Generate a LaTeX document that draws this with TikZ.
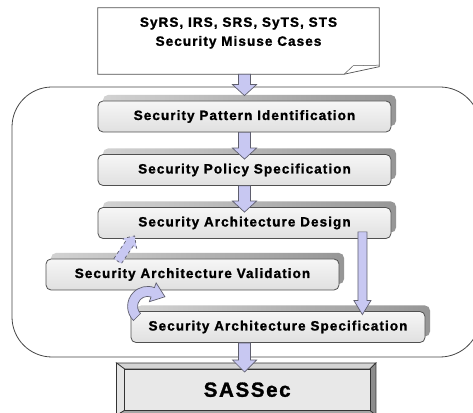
\documentclass[tikz,border=0pt]{standalone}
\usepackage{fontspec}
\setmainfont{Liberation Sans}[LetterSpace=8, BoldFeatures={FakeBold=1.3}]
\usetikzlibrary{calc,shadows}

\definecolor{arrowfill}{RGB}{200,200,242}
\definecolor{arrowline}{RGB}{95,95,110}
\definecolor{boxline}{RGB}{80,80,80}
\definecolor{boxtop}{RGB}{246,246,246}
\definecolor{boxbot}{RGB}{224,224,224}
\definecolor{shadowL}{RGB}{210,210,210}
\definecolor{shadowR}{RGB}{150,150,150}
\definecolor{frameline}{RGB}{70,70,70}

% block arrow: [options]{from}{to}{shaft half width}{head half width}{head length}
\newcommand{\blockarrow}[6][]{%
  \filldraw[flowarrow,#1] let \p1=(#2), \p2=(#3),
    \n1={atan2(\y2-\y1,\x2-\x1)}, \n2={veclen(\x2-\x1,\y2-\y1)-#6} in
    ($(\p1)+(\n1+90:#4)$) -- ($(\p1)+(\n1:\n2)+(\n1+90:#4)$)
    -- ($(\p1)+(\n1:\n2)+(\n1+90:#5)$) -- (\p2)
    -- ($(\p1)+(\n1:\n2)+(\n1-90:#5)$) -- ($(\p1)+(\n1:\n2)+(\n1-90:#4)$)
    -- ($(\p1)+(\n1-90:#4)$) -- cycle;}

\begin{document}
\begin{tikzpicture}[x=1pt,y=1pt,
  flowarrow/.style={fill=arrowfill, draw=arrowline, line width=0.7pt, line join=miter},
  labelfont/.style={font=\fontsize{13.5}{19}\selectfont\bfseries},
  stepbox/.style={labelfont, draw=boxline, line width=0.8pt, rounded corners=5pt,
    top color=boxtop, bottom color=boxbot, minimum width=293pt, minimum height=31pt,
    inner sep=0pt,
    general shadow={shadow xshift=5pt, shadow yshift=6pt, left color=shadowL, right color=shadowR, draw=none}},
  frame/.style={draw=frameline, line width=0.8pt, rounded corners=40pt},
  docline/.style={draw=boxline, line width=0.7pt, line join=miter},
  bevel/.style={draw=black!80, line width=0.7pt}
]
\useasboundingbox (0,0) rectangle (473,412);
\fill[white] (0,0) rectangle (473,412);
\begin{scope}
\clip (0,0) rectangle (473,412);

% enclosing frame of the architecture activities
\draw[frame] (12,55) rectangle (480,325);

% input document with curled corner
\node[minimum width=281pt, minimum height=66pt, inner sep=0pt] (doc) at (238.5,371) {};
\node[labelfont, align=center, inner sep=0pt] (doctext) at (238.5,379) {SyRS, IRS, SRS, SyTS, STS\\Security Misuse Cases};
\draw[docline] (doc.north west) -- (doc.north east) -- ($(doc.south east)+(0,7.5)$)
  -- ($(doc.south east)+(-35,0)$) -- (doc.south west) -- cycle;
\draw[docline, line width=0.5pt] ($(doc.south east)+(-35,0)$) -- ($(doc.south east)+(-26,8.5)$)
  -- ($(doc.south east)+(0,9)$);

% activity boxes
\node[stepbox] (spi) at (244.5,295.5) {Security Pattern Identification};
\node[stepbox] (sps) at (244.5,242) {Security Policy Specification};
\node[stepbox] (sad) at (244.5,189) {Security Architecture Design};
\node[stepbox] (sav) at (192.5,137.5) {Security Architecture Validation};
\node[stepbox, minimum width=294pt] (sas) at (278,85) {Security Architecture Specification};

% output box with bevelled frame
\node[minimum width=259pt, minimum height=52pt, inner sep=0pt] (sassec) at (246.2,22.8) {};
\coordinate (iNW) at ($(sassec.north west)+(8,-6)$);
\coordinate (iNE) at ($(sassec.north east)+(-6,-6)$);
\coordinate (iSE) at ($(sassec.south east)+(-6,5)$);
\coordinate (iSW) at ($(sassec.south west)+(8,5)$);
\filldraw[bevel, fill=black!17] (sassec.north west) -- (sassec.north east) -- (iNE) -- (iNW) -- cycle;
\filldraw[bevel, fill=black!10] (sassec.north west) -- (iNW) -- (iSW) -- (sassec.south west) -- cycle;
\filldraw[bevel, fill=black!45] (sassec.north east) -- (sassec.south east) -- (iSE) -- (iNE) -- cycle;
\filldraw[bevel, fill=black!35] (sassec.south west) -- (iSW) -- (iSE) -- (sassec.south east) -- cycle;
\filldraw[bevel, fill=black!9] (iNW) rectangle (iSE);
\node[font=\fontsize{20.5}{24}\selectfont\bfseries] (sassectext) at ($(iNW)!0.5!(iSE)$) {SASSec};

% flow arrows
\blockarrow{spi.north |- doc.south}{$(spi.north)+(0,5)$}{6pt}{12pt}{11pt}
\blockarrow{spi.south}{$(sps.north)+(0,-5)$}{6pt}{12pt}{11pt}
\blockarrow{sps.south}{$(sad.north)+(0,-5)$}{6pt}{12pt}{11pt}
\coordinate (d2s) at ($(sad.south east)+(-29,7)$);
\blockarrow{d2s}{$(d2s |- sas.north)+(0,-3.5)$}{4.5pt}{8.5pt}{14pt}
\blockarrow[dashed]{$(sav.north west)+(72,-2.5)$}{$(sad.south west)+(37,3)$}{4.5pt}{8.5pt}{9pt}
\blockarrow{spi.south |- sas.south}{$(spi.south |- sassec.north)+(0,-9)$}{6pt}{12pt}{12pt}

% loop-back arrow of the validation step
\coordinate (lc) at ($(sav.south west)+(102,-16)$);
\filldraw[flowarrow] ($(lc)+(225:20pt)$) arc[start angle=225, end angle=70, radius=20pt]
  -- ($(lc)+(70:25pt)$) -- ($(lc)+(70:15pt)+(-20:13pt)$) -- ($(lc)+(70:5pt)$)
  -- ($(lc)+(70:10pt)$) arc[start angle=70, end angle=225, radius=10pt] -- cycle;
\end{scope}
\end{tikzpicture}
\end{document}
